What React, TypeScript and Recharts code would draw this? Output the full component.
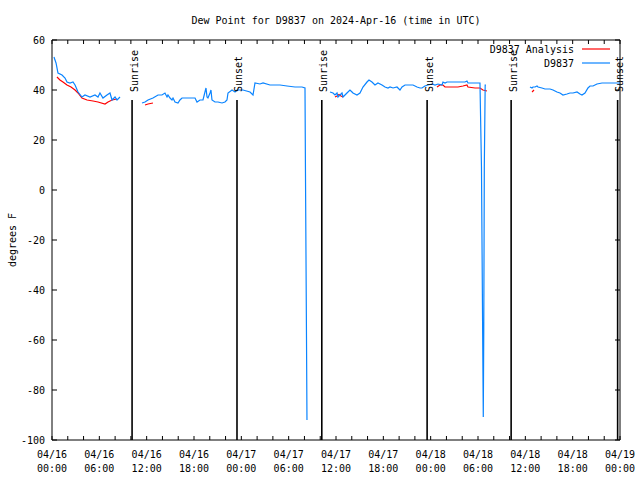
import React from 'react';
import { LineChart, Line, XAxis, YAxis, ReferenceLine, ReferenceArea, ReferenceDot } from 'recharts';

// ---- data (hours since 04/16 00:00 UTC, degrees F) ----
const stationHours: (number)[] = [
  0.25, 0.51, 0.76, 1.27, 1.65, 1.9, 2.28, 2.66, 2.92, 3.3, 3.8, 4.18, 4.82, 5.45, 5.83, 6.08, 6.46, 6.97, 7.35, 7.61, 7.99, 8.24, 8.62,
  10.0,
  11.41, 11.79, 12.17, 12.8, 13.44, 13.94, 14.32, 14.58, 14.7, 14.96, 15.21, 15.34, 15.59, 15.97, 16.22, 16.48, 16.86, 17.49, 18.13, 18.38,
  18.76, 19.14, 19.39, 19.52, 19.65, 19.77, 20.03, 20.15, 20.28, 20.66, 21.04, 21.55, 21.93, 22.18, 22.31, 22.82, 23.2, 23.45, 24.21,
  25.1, 25.48, 25.73, 26.36, 26.75, 27.63, 28.9, 29.79, 30.8, 31.69, 32.07, 32.13, 32.26, 32.32,
  33.5,
  35.24, 35.62, 35.87, 36.13, 36.25, 36.51, 36.76, 36.89, 37.14, 37.39, 37.77, 38.03, 38.15, 38.66, 39.04, 39.42, 39.93, 40.18, 40.56,
  40.94, 41.32, 41.83, 42.21, 42.59, 42.85, 43.23, 43.73, 44.11, 44.37, 44.75, 45.13, 45.76, 46.27, 46.65, 46.9, 47.28, 47.66, 48.17,
  48.55, 48.93, 49.44, 49.56, 49.82, 50.07, 50.7, 51.46, 52.35, 52.6, 52.73, 53.62, 54.25, 54.44, 54.59, 54.67, 54.73, 54.8, 54.91, 55.01,
  57.0,
  60.59, 60.85, 60.97, 61.23, 61.48, 61.61, 62.11, 62.49, 63.13, 63.51, 64.01, 64.39, 64.77, 65.28, 65.66, 66.04, 66.55, 66.93, 67.18,
  67.56, 67.94, 68.2, 68.58, 69.08, 69.72, 70.35, 70.99, 71.62, 72.0,
];
const stationDewPoint: (number | null)[] = [
  53.2, 50.8, 46.8, 46, 44.8, 43.2, 42.8, 43.2, 42, 39.2, 37.2, 38, 37.2, 38, 37.2, 38.8, 36.8, 38, 38.8, 36, 37.2, 36, 37.2,
  null,
  34.8, 35.2, 36, 36.8, 38, 38, 38.8, 37.2, 38, 36.8, 36, 36.8, 35.2, 34.8, 36, 36.8, 36.8, 36.8, 36.8, 35.2,
  36, 36, 39.2, 40.8, 37.2, 36.8, 38.8, 40, 36, 35.2, 35.2, 34.8, 35.2, 36, 38.8, 40, 39.2, 40, 40,
  39.2, 38, 42.8, 42.4, 42.8, 42, 42, 41.6, 41.2, 41.2, 40.8, 7.2, -59.2, -92,
  null,
  39.2, 38.8, 38, 38.8, 37.2, 38, 38.8, 37.2, 38, 38.8, 40, 39.2, 38.8, 38, 38.8, 41.2, 43.2, 44, 43.2,
  42, 42.8, 42, 41.2, 40.8, 41.2, 40.8, 41.2, 40, 41.2, 42, 42, 42, 41.2, 40.8, 40.8, 41.6, 42, 42.4,
  42, 42.4, 42, 43.2, 42.8, 43.2, 43.2, 43.2, 43.2, 43.6, 42.8, 42.8, 42.8, 9.2, -57.2, -90.8, -57.2, 9.2, 42, 42,
  null,
  41.2, 40.8, 41.2, 41.2, 41.6, 41.2, 40.8, 40.4, 40.4, 40, 39.2, 38.8, 38, 38.4, 38.8, 38.8, 39.2, 38.4, 38,
  38.8, 40.8, 41.6, 41.6, 42.4, 42.8, 42.8, 42.8, 42.8, 42.8,
];

const analysisHours: number[] = [
  0.63, 1.01, 1.39, 1.9, 2.41, 2.92, 3.3, 3.8, 4.44, 5.2, 5.83, 6.72, 7.1, 7.61, 8.24,
  10.0,
  11.79, 12.17, 12.8,
  24.0,
  35.87, 36.13, 36.38, 36.63, 36.89,
  42.0,
  48.8, 49.18, 49.56, 49.82, 50.7, 51.46, 52.1, 52.6, 52.73, 53.62, 54.25, 54.63, 55.14,
  58.0,
  60.85, 61.1,
];
const analysisDewPoint: (number | null)[] = [
  45.2, 44, 43.2, 42, 41.2, 40, 38.8, 36.8, 36, 35.6, 35.2, 34.4, 35.2, 36, 36.4,
  null,
  34, 34.4, 34.8,
  null,
  37.2, 37.6, 38.2, 37.6, 37.2,
  null,
  41.2, 42, 42, 41.2, 41.2, 41.2, 41.6, 42, 41.2, 40.8, 40.8, 40, 39.6,
  null,
  39.2, 40,
];

const sunHours = [10.15, 23.45, 34.2, 47.55, 58.2, 71.7];
const sunLabels = ['Sunrise', 'Sunset', 'Sunrise', 'Sunset', 'Sunrise', 'Sunset'];
const sunLineTop = 36;

const xTickHours = Array.from({ length: 37 }, (_, i) => i * 2);
const xTickDates = ['04/16', '04/16', '04/16', '04/16', '04/17', '04/17', '04/17', '04/17', '04/18', '04/18', '04/18', '04/18', '04/19'];
const xTickTimes = ['00:00', '06:00', '12:00', '18:00', '00:00', '06:00', '12:00', '18:00', '00:00', '06:00', '12:00', '18:00', '00:00'];
const yTicks = [-100, -80, -60, -40, -20, 0, 20, 40, 60];

const seriesNames = ['D9837 Analysis', 'D9837'];
const seriesColors = ['#ff0000', '#0a84ff'];

const stationData = stationHours.map((h, i) => ({ h, v: stationDewPoint[i] }));
const analysisData = analysisHours.map((h, i) => ({ h, v: analysisDewPoint[i] }));

// ---- layout ----
const W = 640;
const H = 480;
const PLOT_LEFT = 52;
const PLOT_RIGHT = 620;
const PLOT_TOP = 40;
const PLOT_BOTTOM = 440;
const FONT = '"DejaVu Sans Mono", "Liberation Mono", monospace';
const FS = 10;

const XTick = (props: any) => {
  const { x, payload } = props;
  const v = payload.value as number;
  const major = v % 6 === 0;
  const idx = v / 6;
  return (
    <g>
      <line x1={x} x2={x} y1={PLOT_BOTTOM} y2={PLOT_BOTTOM - 4} stroke="#000" />
      <line x1={x} x2={x} y1={PLOT_TOP} y2={PLOT_TOP + 4} stroke="#000" />
      {major && (
        <text x={x} y={454} textAnchor="middle" dy="0.35em" fontFamily={FONT} fontSize={FS} fill="#000">
          {xTickDates[idx]}
        </text>
      )}
      {major && (
        <text x={x} y={468} textAnchor="middle" dy="0.35em" fontFamily={FONT} fontSize={FS} fill="#000">
          {xTickTimes[idx]}
        </text>
      )}
    </g>
  );
};

const YTick = (props: any) => {
  const { y, payload } = props;
  return (
    <g>
      <line x1={PLOT_LEFT} x2={PLOT_LEFT + 5} y1={y} y2={y} stroke="#000" />
      <line x1={PLOT_RIGHT} x2={PLOT_RIGHT - 5} y1={y} y2={y} stroke="#000" />
      <text x={45} y={y} textAnchor="end" dy="0.35em" fontFamily={FONT} fontSize={FS} fill="#000">
        {String(payload.value)}
      </text>
    </g>
  );
};

const sunLabelShape = (label: string) => (p: any) => (
  <text
    x={p.cx + 2}
    y={p.cy - 8}
    transform={`rotate(-90 ${p.cx + 2} ${p.cy - 8})`}
    textAnchor="start"
    dy="0.35em"
    fontFamily={FONT}
    fontSize={FS}
    fill="#000"
  >
    {label}
  </text>
);

export default function App() {
  return (
    <div style={{ position: 'absolute', left: 0, top: 0, width: W, height: H, background: '#fff' }}>
      <LineChart width={W} height={H} margin={{ top: 40, right: 20, bottom: 0, left: 8 }}>
        <XAxis
          dataKey="h"
          type="number"
          domain={[0, 72]}
          ticks={xTickHours}
          interval={0}
          tick={<XTick />}
          tickLine={false}
          axisLine={false}
          height={40}
          allowDataOverflow
        />
        <YAxis
          type="number"
          domain={[-100, 60]}
          ticks={yTicks}
          interval={0}
          tick={<YTick />}
          tickLine={false}
          axisLine={false}
          width={44}
          allowDataOverflow
        />
        <ReferenceArea x1={0} x2={72} y1={-100} y2={60} fill="none" stroke="#000" strokeWidth={1} ifOverflow="visible" />
        {sunHours.map((h, i) => (
          <ReferenceLine
            key={'sl' + i}
            segment={[{ x: h, y: -100 }, { x: h, y: sunLineTop }]}
            stroke="#000"
            strokeWidth={1.6}
            ifOverflow="visible"
          />
        ))}
        {sunHours.map((h, i) => (
          <ReferenceDot key={'sd' + i} x={h} y={sunLineTop} r={0} ifOverflow="visible" shape={sunLabelShape(sunLabels[i])} />
        ))}
        <Line
          data={analysisData}
          dataKey="v"
          type="linear"
          stroke={seriesColors[0]}
          strokeWidth={1.2}
          dot={false}
          activeDot={false}
          connectNulls={false}
          isAnimationActive={false}
        />
        <Line
          data={stationData}
          dataKey="v"
          type="linear"
          stroke={seriesColors[1]}
          strokeWidth={1.2}
          dot={false}
          activeDot={false}
          connectNulls={false}
          isAnimationActive={false}
        />
        <text x={336} y={20} textAnchor="middle" dy="0.35em" fontFamily={FONT} fontSize={FS} fill="#000">
          Dew Point for D9837 on 2024-Apr-16 (time in UTC)
        </text>
        <text x={12} y={240} transform="rotate(-90 12 240)" textAnchor="middle" dy="0.35em" fontFamily={FONT} fontSize={FS} fill="#000">
          degrees F
        </text>
        <text x={574} y={49} textAnchor="end" dy="0.35em" fontFamily={FONT} fontSize={FS} fill="#000">
          {seriesNames[0]}
        </text>
        <line x1={582} x2={610} y1={49} y2={49} stroke={seriesColors[0]} strokeWidth={1.2} />
        <text x={574} y={63} textAnchor="end" dy="0.35em" fontFamily={FONT} fontSize={FS} fill="#000">
          {seriesNames[1]}
        </text>
        <line x1={582} x2={610} y1={63} y2={63} stroke={seriesColors[1]} strokeWidth={1.2} />
      </LineChart>
    </div>
  );
}
